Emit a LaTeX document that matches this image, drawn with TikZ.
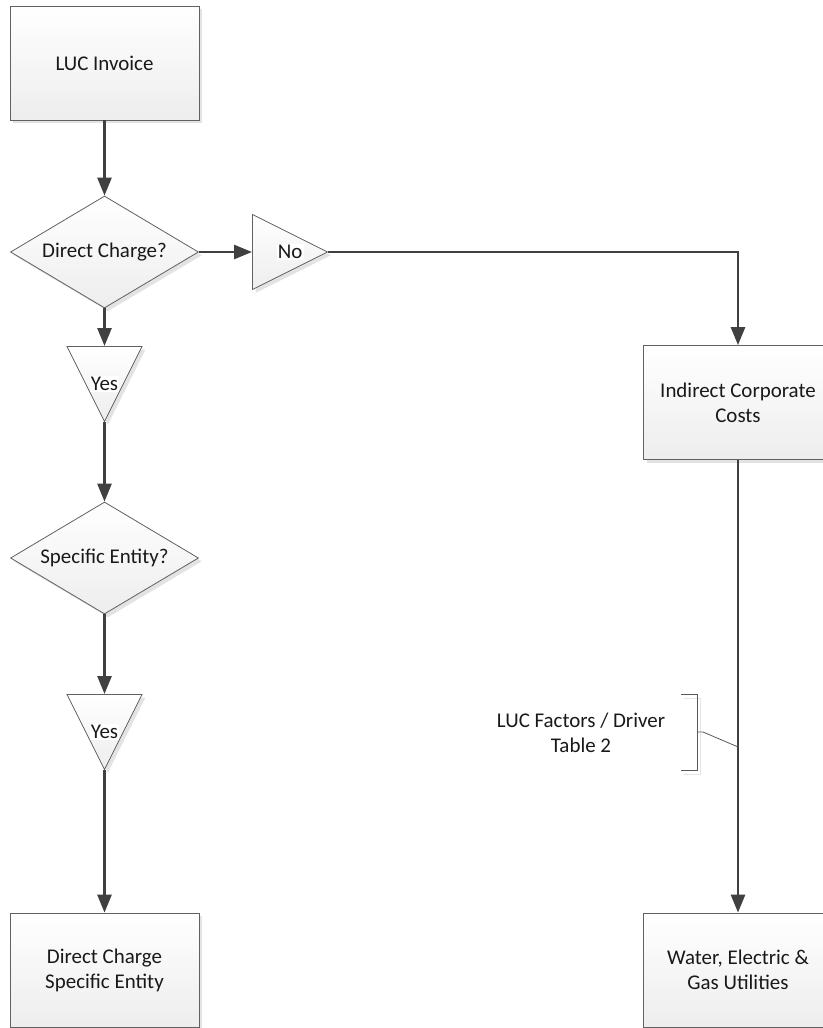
\documentclass[tikz,border=0pt]{standalone}
\usepackage{fontspec}
\setmainfont{Carlito}
\usetikzlibrary{arrows.meta,calc,shapes.geometric,shadows}

\tikzset{
	soft/.style={drop shadow={shadow xshift=2.5pt, shadow yshift=-2.5pt, fill=black!11, opacity=1}},
	box/.style={rectangle, draw=black!62, line width=0.6pt, top color=white, bottom color=black!7, soft,
		minimum width=141.75pt, minimum height=85.5pt, inner sep=0pt, align=center, text=black!90},
	ask/.style={diamond, aspect=1.68, draw=black!62, line width=0.6pt, top color=white, bottom color=black!7, soft,
		minimum width=141pt, minimum height=84pt, inner sep=0pt, text=black!90},
	tag/.style={isosceles triangle, isosceles triangle stretches, draw=black!62, line width=0.6pt,
		top color=white, bottom color=black!7, soft, minimum width=56.25pt, minimum height=56.25pt, inner sep=0pt},
	tagtext/.style={fill=white, inner sep=1pt, text=black!90},
	flow/.style={draw=black!75, line width=2pt, -{Triangle[length=13.5pt,width=10.5pt]}},
	brace/.style={draw=black!65, line width=0.6pt},
}

\begin{document}
\begin{tikzpicture}[x=0.75pt, y=-0.75pt, font=\fontsize{15.7pt}{18.8pt}\selectfont]
			%%%%% START %%%%%
			
			\fill[white] (0, 0) rectangle (823, 1028);
			\useasboundingbox (0, 0) rectangle (823, 1028);
			\clip (0, 0) rectangle (823, 1028);
			
			% left column
			\node[box] (invoice) at (104.5, 63) {LUC Invoice};
			\node[ask] (direct) at (104.5, 252) {Direct Charge?};
			\node[tag, shape border rotate=270, anchor=lower side] (yesA) at (104.5, 346) {};
			\node[ask] (entity) at (104.5, 558) {Specific Entity?};
			\node[tag, shape border rotate=270, anchor=lower side] (yesB) at (104.5, 694) {};
			\node[box] (charge) at (104.5, 970) {Direct Charge\\Specific Entity};
			
			\node[tagtext] at ($(yesA.apex)!0.5!(yesA.lower side)$) {Yes};
			\node[tagtext] at ($(yesB.apex)!0.5!(yesB.lower side)$) {Yes};
			
			% right column
			\node[tag, anchor=lower side] (no) at (252, 252) {};
			\node[tagtext] at ($(no.apex)!0.5!(no.lower side)$) {No};
			\node[box] (indirect) at (738, 402.5) {Indirect Corporate\\Costs};
			\node[box] (utility) at (738, 970) {Water, Electric \&\\Gas Utilities};
			
			\draw[flow] (invoice) -- (direct);
			\draw[flow] (direct.east) -- (no.lower side);
			\draw[flow] (no.apex) -| (indirect.north);
			\draw[flow] (direct.south) -- (yesA.lower side);
			\draw[flow] (yesA.apex) -- (entity.north);
			\draw[flow] (entity.south) -- (yesB.lower side);
			\draw[flow] (yesB.apex) -- (charge.north);
			\draw[flow] (indirect.south) -- (utility.north);
			
			% driver note
			\coordinate (tap) at ($(indirect.south)!0.634!(utility.north)$);
			\node[align=center, inner sep=0pt, text=black!90] (driver) at (581, 733) {LUC Factors / Driver\\Table 2};
			
			\draw[black!10, line width=0.6pt] (684, 698) -| (700, 774) -- (684, 774);
			\draw[brace] (681, 694) -| (697, 770) -- (681, 770);
			\draw[brace] (697, 732) -- (703, 732) -- (tap);
			
			%%%%% END %%%%%
\end{tikzpicture}
\end{document}
